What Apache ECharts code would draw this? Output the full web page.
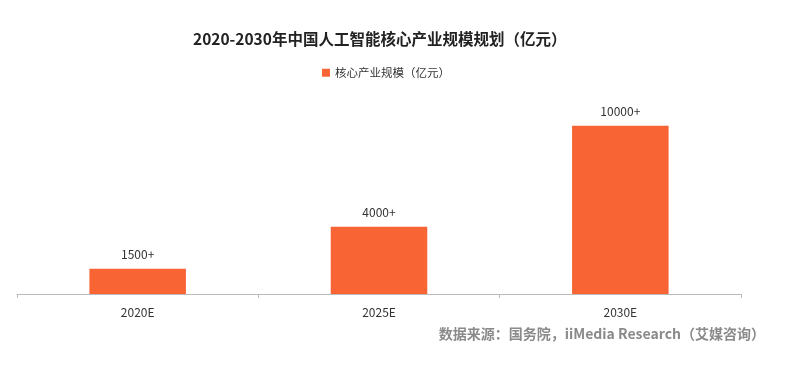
<!DOCTYPE html>
<html><head><meta charset="utf-8">
<script src="https://cdn.jsdelivr.net/npm/echarts@6/dist/echarts.min.js"></script>
<style>html,body{margin:0;padding:0;background:#fff}#c{width:800px;height:371px}</style>
</head><body><div id="c"></div>
<script>
const categories = ['2020E', '2025E', '2030E'];
const values = [1500, 4000, 10000];
const labels = ['1500+', '4000+', '10000+'];
const seriesName = '核心产业规模（亿元）';
const titleText = '2020-2030年中国人工智能核心产业规模规划（亿元）';
const sourceText = '数据来源：国务院，iiMedia Research（艾媒咨询）';

const font = '"Noto Sans CJK SC", "Noto Sans", sans-serif';
const chart = echarts.init(document.getElementById('c'));
chart.setOption({
  animation: false,
  textStyle: { fontFamily: font },
  title: {
    text: titleText, left: 188, top: 26,
    textStyle: { fontSize: 15.5, fontWeight: 'bold', color: '#222', fontFamily: font }
  },
  legend: {
    data: [seriesName], left: 317, top: 62, itemWidth: 8, itemHeight: 8, itemGap: 4,
    icon: 'rect',
    textStyle: { fontSize: 11.5, color: '#333', fontFamily: font }
  },
  grid: { left: 17, right: 59, top: 92, bottom: 77 },
  xAxis: {
    type: 'category', data: categories,
    axisLine: { lineStyle: { color: '#bbb', width: 1 } },
    axisTick: { show: true, length: 4, lineStyle: { color: '#bbb' } },
    axisLabel: { fontSize: 12, color: '#333', margin: 12, fontFamily: font }
  },
  yAxis: {
    type: 'value', min: 0, max: 12000, show: false,
    splitLine: { show: false }
  },
  series: [{
    name: seriesName, type: 'bar', data: values, barWidth: '40%',
    itemStyle: { color: '#F96435' },
    label: {
      show: true, position: 'top', distance: 8, fontSize: 12, color: '#333', fontFamily: font,
      formatter: p => labels[p.dataIndex]
    }
  }],
  graphic: [{
    type: 'text', right: 35, top: 327,
    style: { text: sourceText, fontSize: 14, fontWeight: 'bold', fill: '#8a8a8a', fontFamily: font }
  }]
});
</script></body></html>
